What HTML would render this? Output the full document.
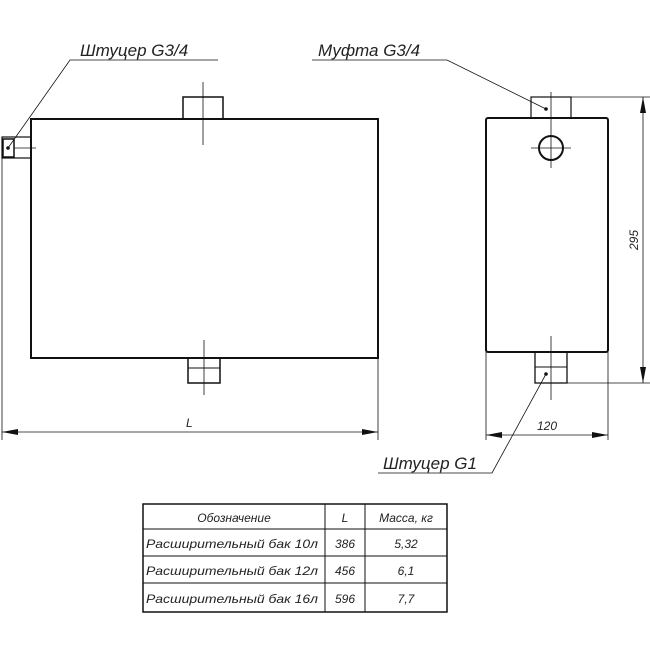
<!DOCTYPE html>
<html><head><meta charset="utf-8"><style>
html,body{margin:0;padding:0;background:#fff;}
svg text{font-family:"Liberation Sans","DejaVu Sans",sans-serif;font-style:italic;fill:#222;}
</style></head><body>
<svg width="650" height="650" viewBox="0 0 650 650" xmlns="http://www.w3.org/2000/svg">
<g stroke="#111" fill="none">
<rect x="31" y="119" width="347" height="239" stroke-width="2"/>
<rect x="183" y="97" width="40" height="22" stroke-width="1.5"/>
<line x1="203" y1="82" x2="203" y2="145" stroke-width="0.8"/>
<rect x="188" y="358" width="32" height="25" stroke-width="1.5"/>
<line x1="188" y1="368" x2="220" y2="368" stroke-width="1"/>
<line x1="204" y1="340" x2="204" y2="395" stroke-width="0.8"/>
<rect x="2" y="137" width="29" height="21" stroke-width="1.2"/>
<rect x="3" y="139" width="11" height="18" stroke-width="1.5"/>
<line x1="14" y1="148" x2="36" y2="148" stroke-width="0.8"/>
<line x1="2" y1="158" x2="2" y2="440" stroke-width="0.8"/>
<line x1="378" y1="358" x2="378" y2="440" stroke-width="0.8"/>
<line x1="2" y1="432" x2="378" y2="432" stroke-width="0.8"/>
<rect x="486" y="118" width="122" height="234" rx="2" stroke-width="2"/>
<rect x="531" y="97" width="40" height="21" stroke-width="1.2"/>
<circle cx="551" cy="148" r="12" stroke-width="2"/>
<line x1="551" y1="92" x2="551" y2="168" stroke-width="0.8"/>
<line x1="531" y1="148" x2="571" y2="148" stroke-width="0.8"/>
<rect x="535" y="352" width="32" height="31" stroke-width="1.3"/>
<line x1="535" y1="367" x2="567" y2="367" stroke-width="1"/>
<line x1="551" y1="336" x2="551" y2="400" stroke-width="0.8"/>
<line x1="571" y1="97" x2="650" y2="97" stroke-width="0.8"/>
<line x1="567" y1="383" x2="650" y2="383" stroke-width="0.8"/>
<line x1="643" y1="97" x2="643" y2="383" stroke-width="0.8"/>
<line x1="486" y1="352" x2="486" y2="440" stroke-width="0.8"/>
<line x1="608" y1="352" x2="608" y2="440" stroke-width="0.8"/>
<line x1="486" y1="435" x2="608" y2="435" stroke-width="0.8"/>
<polyline points="218,60 70,60 8,148" stroke-width="0.8"/>
<polyline points="312,60 447,60 546,109" stroke-width="0.8"/>
<polyline points="378,473 492,473 546,374" stroke-width="0.8"/>
<rect x="143" y="504" width="304" height="108" stroke-width="1.5"/>
<line x1="143" y1="529" x2="447" y2="529" stroke-width="1"/>
<line x1="143" y1="556" x2="447" y2="556" stroke-width="1"/>
<line x1="143" y1="583" x2="447" y2="583" stroke-width="1"/>
<line x1="325" y1="504" x2="325" y2="612" stroke-width="1"/>
<line x1="365" y1="504" x2="365" y2="612" stroke-width="1"/>
</g>
<g fill="#111">
<circle cx="8" cy="148" r="1.8"/><circle cx="546" cy="109" r="1.8"/><circle cx="546" cy="374" r="1.8"/>
<polygon points="2,432 18,429 18,435"/><polygon points="378,432 362,429 362,435"/>
<polygon points="643,97 640,113 646,113"/><polygon points="643,383 640,367 646,367"/>
<polygon points="486,435 502,432 502,438"/><polygon points="608,435 592,432 592,438"/>
</g>
<text x="80" y="56" font-size="17">Штуцер G3/4</text>
<text x="318" y="56" font-size="17">Муфта G3/4</text>
<text x="383" y="469" font-size="17">Штуцер G1</text>
<text x="186" y="427" font-size="12">L</text>
<text x="537" y="430" font-size="12">120</text>
<text x="638" y="250" font-size="12" transform="rotate(-90 638 250)">295</text>
<g font-size="12">
<text x="234" y="522" text-anchor="middle">Обозначение</text>
<text x="345" y="522" text-anchor="middle">L</text>
<text x="406" y="522" text-anchor="middle">Масса, кг</text>
<text x="146" y="548" textLength="172" lengthAdjust="spacingAndGlyphs">Расширительный бак 10л</text>
<text x="345" y="548" text-anchor="middle">386</text>
<text x="406" y="548" text-anchor="middle">5,32</text>
<text x="146" y="575" textLength="172" lengthAdjust="spacingAndGlyphs">Расширительный бак 12л</text>
<text x="345" y="575" text-anchor="middle">456</text>
<text x="406" y="575" text-anchor="middle">6,1</text>
<text x="146" y="603" textLength="172" lengthAdjust="spacingAndGlyphs">Расширительный бак 16л</text>
<text x="345" y="603" text-anchor="middle">596</text>
<text x="406" y="603" text-anchor="middle">7,7</text>
</g>
</svg>
</body></html>
